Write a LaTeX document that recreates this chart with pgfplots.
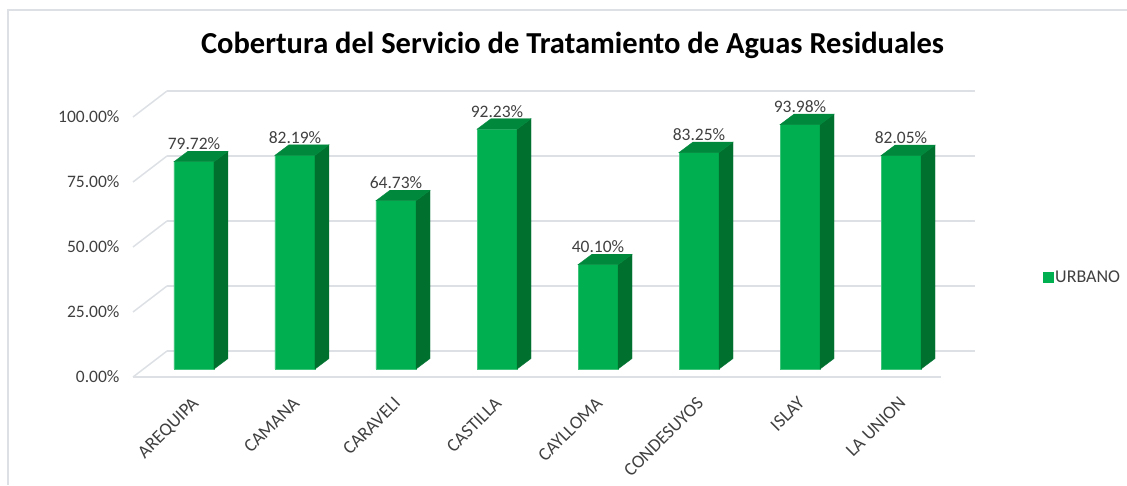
\documentclass[border=0pt]{standalone}
\usepackage{fontspec}
\setmainfont{Carlito}
\usepackage{pgfplots}
\pgfplotsset{compat=1.18}
\usepackage{pgfplotstable}
\definecolor{barfront}{HTML}{00B050}
\definecolor{barside}{HTML}{00702F}
\definecolor{bartop}{HTML}{00893D}
\definecolor{gridc}{HTML}{DDE0E5}
\definecolor{txt}{HTML}{404040}

\pgfplotstableread{
i v
0 79.72
1 82.19
2 64.73
3 92.23
4 40.10
5 83.25
6 93.98
7 82.05
}\data

\pgfdeclareplotmark{bar3d}{%
  \pgfmathsetlengthmacro\hh{\barv*2.6pt}%
  \pgfsetlinewidth{0.4pt}%
  \pgfsetfillcolor{barside}\pgfsetstrokecolor{barside}%
  \pgfpathmoveto{\pgfpoint{20pt}{-\hh}}%
  \pgfpathlineto{\pgfpoint{34pt}{-\hh+10.5pt}}%
  \pgfpathlineto{\pgfpoint{34pt}{10.5pt}}%
  \pgfpathlineto{\pgfpoint{20pt}{0pt}}%
  \pgfpathclose
  \pgfusepath{fill,stroke}%
  \pgfsetfillcolor{bartop}\pgfsetstrokecolor{bartop}%
  \pgfpathmoveto{\pgfpoint{-20pt}{0pt}}%
  \pgfpathlineto{\pgfpoint{20pt}{0pt}}%
  \pgfpathlineto{\pgfpoint{34pt}{10.5pt}}%
  \pgfpathlineto{\pgfpoint{-6pt}{10.5pt}}%
  \pgfpathclose
  \pgfusepath{fill,stroke}%
}

\begin{document}
\begin{tikzpicture}
\path[use as bounding box] (-143.5pt,-116pt) rectangle (983.5pt,369pt);
\draw[gridc, line width=1.2pt] (-135.5pt,-116pt) -- (-135.5pt,359pt) -- (983.5pt,359pt);
\begin{axis}[
  x=101pt, y=2.6pt,
  xmin=-0.5, xmax=7.5, ymin=0, ymax=100,
  axis line style={draw=none},
  major tick length=0pt,
  clip=false,
  xtick={0,...,7},
  xticklabels={AREQUIPA,CAMANA,CARAVELI,CASTILLA,CAYLLOMA,CONDESUYOS,ISLAY,LA UNION},
  xticklabel style={xshift=-3pt, yshift=-22pt, rotate=45, anchor=north east,
    font=\fontsize{18.5}{21}\selectfont, text=txt},
  ytick={0,25,50,75,100},
  yticklabel={\pgfmathprintnumber[fixed,fixed zerofill,precision=2]{\tick}\%},
  yticklabel style={xshift=-20.5pt, yshift=-8pt, font=\fontsize{17.5}{20}\selectfont, text=txt},
  /pgf/number format/assume math mode=true,
  ymajorgrids,
  major grid style={draw=gridc, line width=1.5pt, xshift=23.5pt, yshift=18pt},
  legend style={at={(1.1125,0.354)}, anchor=west, draw=none, fill=none,
    inner sep=0pt, font=\fontsize{18}{21}\selectfont, text=txt},
  legend image code/.code={\fill[barfront] (0pt,-5pt) rectangle (10pt,5pt);},
]
\pgfplotsinvokeforeach{0,25,50,75,100}{
  \draw[gridc, line width=1.5pt] ([xshift=-10.5pt,yshift=-8pt]axis cs:-0.5,#1) -- ([xshift=23.5pt,yshift=18pt]axis cs:-0.5,#1);
}
\draw[gridc, line width=1.5pt] ([xshift=-10.5pt,yshift=-8pt]axis cs:-0.5,0) -- ([xshift=-10.5pt,yshift=-8pt]axis cs:7.5,0);

\addplot[ybar, bar width=40pt, fill=barfront, draw=barfront!75!white, line width=0.6pt,
  nodes near coords={\pgfmathprintnumber[fixed,fixed zerofill,precision=2]{\pgfplotspointmeta}\%},
  nodes near coords style={anchor=center, yshift=18pt, font=\fontsize{17.5}{20}\selectfont, text=txt}]
  table[x=i, y=v] {\data};
\addlegendentry{URBANO}

\addplot[only marks, mark=bar3d, forget plot,
  visualization depends on={rawy \as \barv}]
  table[x=i, y=v] {\data};
\end{axis}
\node[anchor=base, font=\bfseries\fontsize{30.5}{36}\selectfont] at (429pt,315pt)
  {Cobertura del Servicio de Tratamiento de Aguas Residuales};
\end{tikzpicture}
\end{document}
